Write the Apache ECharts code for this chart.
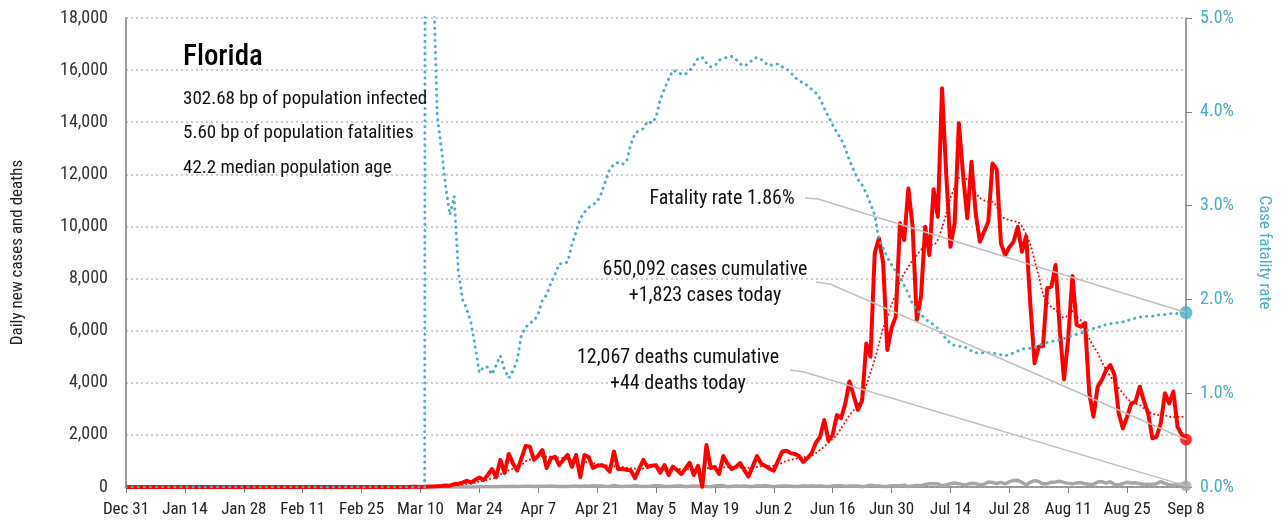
<!DOCTYPE html>
<html>
<head>
<meta charset="utf-8">
<script src="https://cdn.jsdelivr.net/npm/echarts@6/dist/echarts.min.js"></script>
<style>
  html, body { margin: 0; padding: 0; background: #fff; }
  #chart { width: 1281px; height: 529px; }
</style>
</head>
<body>
<div id="chart"></div>
<script>
// day index 0 = Dec 31, 252 = Sep 8
const tickLabels = ['Dec 31', 'Jan 14', 'Jan 28', 'Feb 11', 'Feb 25', 'Mar 10', 'Mar 24', 'Apr 7', 'Apr 21',
  'May 5', 'May 19', 'Jun 2', 'Jun 16', 'Jun 30', 'Jul 14', 'Jul 28', 'Aug 11', 'Aug 25', 'Sep 8'];

// daily new cases
const cases = [
  0,0,0,0,0,0,0,0,0,0,0,0,0,0,
  0,0,0,0,0,0,0,0,0,0,0,0,0,0,
  0,0,0,0,0,0,0,0,0,0,0,0,0,0,
  0,0,0,0,0,0,0,0,0,0,0,0,0,0,
  0,0,0,0,0,2,0,1,0,2,4,4,6,7,
  4,12,20,17,30,40,60,50,115,120,170,240,175,270,
  360,270,460,690,380,1040,540,1270,900,630,1100,1570,1550,1040,
  1200,1420,730,1100,1160,840,1050,1230,770,1230,380,1230,1150,730,
  810,840,780,590,1360,690,690,660,630,340,700,1040,770,820,
  840,550,840,460,780,650,500,700,930,460,810,10,1610,730,
  770,500,1190,900,690,770,920,650,400,800,1190,900,810,700,
  630,1000,1360,1390,1300,1270,1190,960,1100,1300,1700,1920,2570,1780,
  2000,2760,2640,3200,4050,3500,2960,3310,5510,5000,8970,9550,8590,5260,
  6100,6540,10120,9480,11460,9990,6410,7300,9990,8900,11430,10370,15300,12000,
  9220,10120,13960,12000,10310,12480,10500,9410,9800,10180,12420,12190,9350,8900,
  9200,9410,9990,9030,9630,7000,4750,5380,5410,7630,7690,8520,6000,4130,
  5700,8100,6220,6150,6300,3600,2700,3850,4110,4490,4680,4300,2830,2250,
  2700,3210,3270,3850,3300,2830,1870,1930,2440,3600,3210,3660,2300,2000,
  1823
];

// 7-day average of new cases (dotted red)
const casesAvg = [
  0,0,0,0,0,0,0,0,0,0,0,0,0,0,
  0,0,0,0,0,0,0,0,0,0,0,0,0,0,
  0,0,0,0,0,0,0,0,0,0,0,0,0,0,
  0,0,0,0,0,0,0,0,0,0,0,0,0,0,
  0,0,0,0,0,1,1,1,1,1,2,2,3,4,
  4,6,9,12,16,20,28,35,50,65,85,115,135,165,
  210,240,270,340,370,480,520,650,700,760,840,990,1050,1110,
  1150,1180,1170,1170,1160,1120,1110,1080,1050,1040,970,970,950,920,
  880,860,830,810,800,790,770,740,720,710,700,710,740,760,
  760,740,750,720,720,700,690,680,680,680,690,650,720,710,
  720,730,760,760,760,740,750,740,730,750,770,790,800,810,
  820,860,930,1000,1040,1080,1110,1140,1160,1200,1300,1420,1550,1700,
  1850,2000,2250,2500,2750,2950,3150,3450,3900,4400,4900,5500,6100,6500,
  7000,7400,7900,8200,8450,8700,8900,9100,9290,9300,9300,9500,9950,10500,
  11080,11500,11850,11900,11800,11650,11300,11100,11000,10950,10950,10750,10400,10300,
  10250,10200,10180,10000,9700,9300,8700,8100,7400,7100,6900,6800,6600,6500,
  6600,6750,6550,6400,6050,5700,5400,5150,4800,4500,4250,4050,3800,3600,
  3400,3270,3200,3150,3020,2900,2820,2770,2760,2750,2700,2690,2700,2700,
  2690
];

// daily new deaths
const deaths = [
  0,0,0,0,0,0,0,0,0,0,0,0,0,0,
  0,0,0,0,0,0,0,0,0,0,0,0,0,0,
  0,0,0,0,0,0,0,0,0,0,0,0,0,0,
  0,0,0,0,0,0,0,0,0,0,0,0,0,0,
  0,0,0,0,0,0,0,0,0,0,1,1,0,0,
  0,0,0,0,1,1,2,0,1,1,4,3,2,3,
  5,8,9,10,6,15,17,16,25,20,24,30,28,22,
  32,26,27,36,30,20,21,15,30,42,21,37,33,45,
  36,41,26,20,55,29,16,30,27,50,33,20,24,36,
  45,48,20,16,31,40,44,13,26,40,29,47,17,9,
  44,48,54,11,29,38,25,42,20,22,46,40,60,28,
  10,27,34,40,33,20,18,48,33,46,28,40,25,20,
  37,44,50,29,35,41,40,12,26,66,45,40,20,18,
  47,50,48,69,16,41,57,46,98,126,125,120,45,78,
  132,156,128,90,100,142,130,79,107,189,173,136,179,122,
  200,253,257,179,75,180,245,212,120,127,182,195,217,177,
  140,120,157,176,123,106,94,190,209,146,204,95,84,126,
  186,152,166,127,94,107,98,127,206,142,85,70,109,105,
  44
];

// case fatality rate, %
const cfr = [
  0,0,0,0,0,0,0,0,0,0,0,0,0,0,
  0,0,0,0,0,0,0,0,0,0,0,0,0,0,
  0,0,0,0,0,0,0,0,0,0,0,0,0,0,
  0,0,0,0,0,0,0,0,0,0,0,0,0,0,
  0,0,0,0,0,0,0,0,0,0,0,0,0,0,
  0,0,60,5.5,3.95,3.6,3.2,2.9,3.1,2.3,2.0,1.9,1.75,1.5,
  1.22,1.28,1.28,1.2,1.3,1.4,1.25,1.16,1.24,1.35,1.62,1.7,1.75,1.77,
  1.85,1.99,2.05,2.17,2.27,2.38,2.38,2.4,2.58,2.72,2.86,2.93,2.98,3.01,
  3.04,3.13,3.26,3.39,3.44,3.46,3.44,3.47,3.65,3.77,3.8,3.82,3.9,3.88,
  3.94,4.13,4.24,4.35,4.44,4.43,4.4,4.4,4.44,4.5,4.57,4.58,4.52,4.48,
  4.49,4.55,4.57,4.58,4.59,4.56,4.51,4.49,4.51,4.56,4.58,4.56,4.52,4.49,
  4.51,4.51,4.48,4.46,4.42,4.37,4.33,4.31,4.28,4.24,4.2,4.14,4.04,3.95,
  3.86,3.78,3.71,3.61,3.48,3.38,3.28,3.22,3.13,3.02,2.9,2.64,2.55,2.45,
  2.37,2.3,2.24,2.15,2.06,1.95,1.89,1.84,1.79,1.76,1.73,1.69,1.63,1.58,
  1.53,1.51,1.5,1.5,1.48,1.45,1.43,1.43,1.43,1.43,1.43,1.42,1.41,1.4,
  1.41,1.43,1.45,1.47,1.48,1.48,1.49,1.51,1.53,1.54,1.55,1.56,1.57,1.58,
  1.6,1.61,1.63,1.64,1.66,1.68,1.69,1.7,1.72,1.73,1.74,1.75,1.75,1.76,
  1.77,1.79,1.8,1.81,1.82,1.82,1.82,1.83,1.84,1.84,1.85,1.85,1.85,1.86,
  1.86
];

const FONT = "'Liberation Sans Narrow','Roboto Condensed','DejaVu Sans Condensed','Arial Narrow',sans-serif";
const TEAL = '#4bacc6';
const RED = '#ff0000';
const GREY = '#a6a6a6';
const LAST = 252;

const pairs = arr => arr.map((v, i) => [i, v]);

const chart = echarts.init(document.getElementById('chart'));

const option = {
  animation: false,
  textStyle: { fontFamily: FONT },
  grid: { left: 126, right: 90, top: 18, bottom: 42 },
  xAxis: {
    type: 'value', min: 0, max: LAST, interval: 14,
    axisLine: { lineStyle: { color: '#7f7f7f', width: 1.5 } },
    axisTick: { show: true, length: 6, lineStyle: { color: '#7f7f7f' } },
    axisLabel: {
      margin: 14, color: '#222', fontSize: 17, fontFamily: FONT,
      formatter: v => tickLabels[Math.round(v / 14)] || ''
    },
    splitLine: { show: false }
  },
  yAxis: [
    {
      type: 'value', min: 0, max: 18000, interval: 2000,
      name: 'Daily new cases and deaths', nameLocation: 'middle', nameGap: 100,
      nameTextStyle: { color: '#222', fontSize: 17, fontFamily: FONT },
      axisLine: { show: true, lineStyle: { color: '#7f7f7f', width: 1.5 } },
      axisTick: { show: false },
      axisLabel: {
        margin: 18, color: '#333', fontSize: 18, fontFamily: FONT,
        formatter: v => v.toLocaleString('en-US')
      },
      splitLine: { lineStyle: { color: '#bfbfbf', type: [2, 3], width: 1.5 } }
    },
    {
      type: 'value', min: 0, max: 5, interval: 1,
      name: 'Case fatality rate', nameLocation: 'middle', nameGap: 70, nameRotate: -90,
      nameTextStyle: { color: TEAL, fontSize: 17, fontFamily: FONT },
      axisLine: { show: true, lineStyle: { color: '#7f7f7f', width: 1.5 } },
      axisTick: { show: true, length: 6, lineStyle: { color: '#7f7f7f' } },
      axisLabel: {
        margin: 14, color: TEAL, fontSize: 18, fontFamily: FONT,
        formatter: v => v.toFixed(1) + '%'
      },
      splitLine: { show: false }
    }
  ],
  series: [
    {
      name: 'deaths', type: 'line', data: pairs(deaths), showSymbol: false,
      lineStyle: { color: GREY, width: 3.5 }, z: 2
    },
    {
      name: 'avg', type: 'line', data: pairs(casesAvg), showSymbol: false, smooth: 0.3,
      lineStyle: { color: RED, width: 2, type: [0.1, 4], cap: 'round' }, z: 3
    },
    {
      name: 'cases', type: 'line', data: pairs(cases), showSymbol: false,
      lineStyle: { color: RED, width: 4, join: 'round' }, z: 4
    },
    {
      name: 'cfr', type: 'line', yAxisIndex: 1, data: pairs(cfr), showSymbol: false,
      lineStyle: { color: TEAL, width: 3, type: [0.1, 6], cap: 'round' }, z: 5
    },
    {
      type: 'scatter', data: [[LAST, cases[LAST]]], symbolSize: 12,
      itemStyle: { color: RED }, z: 10
    },
    {
      type: 'scatter', data: [[LAST, deaths[LAST]]], symbolSize: 11,
      itemStyle: { color: GREY }, z: 10
    },
    {
      type: 'scatter', yAxisIndex: 1, data: [[LAST, cfr[LAST]]], symbolSize: 13,
      itemStyle: { color: TEAL }, z: 10
    }
  ]
};

chart.setOption(option);

// annotations: text blocks and connector lines to the last points
const pCases = chart.convertToPixel({ xAxisIndex: 0, yAxisIndex: 0 }, [LAST, cases[LAST]]);
const pDeaths = chart.convertToPixel({ xAxisIndex: 0, yAxisIndex: 0 }, [LAST, deaths[LAST]]);
const pCfr = chart.convertToPixel({ xAxisIndex: 0, yAxisIndex: 1 }, [LAST, cfr[LAST]]);

const label = (x, y, text, size, align) => ({
  type: 'text', x: x, y: y, z: 20,
  style: { text: text, fontSize: size, fontFamily: FONT, fill: '#111', textAlign: align, textVerticalAlign: 'middle' }
});
const connector = (pts) => ({
  type: 'polyline', z: 15, silent: true,
  shape: { points: pts },
  style: { stroke: '#c0c0c0', lineWidth: 1.5, fill: null }
});

chart.setOption({
  graphic: [
    { type: 'text', x: 183, y: 58, z: 20, style: { text: 'Florida', fontSize: 29, fontWeight: 500, fontFamily: FONT, fill: '#000', textVerticalAlign: 'middle' } },
    label(183, 99, '302.68 bp of population infected', 19, 'left'),
    label(183, 133, '5.60 bp of population fatalities', 19, 'left'),
    label(183, 168, '42.2 median population age', 19, 'left'),

    label(722, 199, 'Fatality rate 1.86%', 20, 'center'),
    label(705, 270, '650,092 cases cumulative', 20, 'center'),
    label(705, 296, '+1,823 cases today', 20, 'center'),
    label(678, 358, '12,067 deaths cumulative', 20, 'center'),
    label(678, 384, '+44 deaths today', 20, 'center'),

    connector([[805, 198], [818, 199], pCfr]),
    connector([[816, 282], [830, 284], pCases]),
    connector([[790, 370], [804, 372], pDeaths])
  ]
});
</script>
</body>
</html>
